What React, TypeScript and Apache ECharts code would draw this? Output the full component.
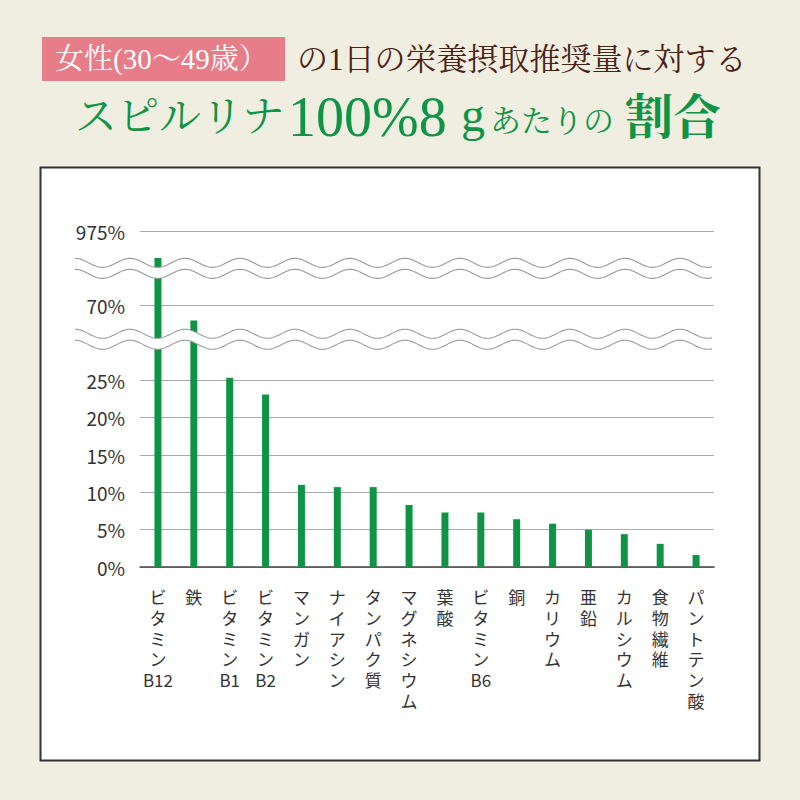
import React, { useEffect, useRef } from "react";
import * as echarts from "echarts";

// Categories (x axis)
const categories = [
  "ビタミンB12", "鉄", "ビタミンB1", "ビタミンB2", "マンガン", "ナイアシン",
  "タンパク質", "マグネシウム", "葉酸", "ビタミンB6", "銅", "カリウム",
  "亜鉛", "カルシウム", "食物繊維", "パントテン酸",
];

// Bar heights on the (broken) axis scale. Up to 25 the unit is %.
// Above the breaks: 35 = "70%", 45 = "975%".
const values = [41.4, 33.0, 25.35, 23.1, 11.0, 10.7, 10.7, 8.3, 7.3, 7.3, 6.4, 5.8, 5.0, 4.4, 3.1, 1.6];

// Tick positions on the axis scale and their labels
const tickValues = [0, 5, 10, 15, 20, 25, 35, 45];
const tickLabels = ["0%", "5%", "10%", "15%", "20%", "25%", "70%", "975%"];

// Axis-break positions (on the axis scale)
const breakPositions = [30.5, 40];

const BG = "#f0eee1";
const GREEN = "#0f9446";
const BROWN = "#4b2216";
const PINK = "#e67d88";
const SERIF = "'Liberation Serif', 'Noto Serif CJK JP', 'Noto Sans CJK JP', serif";
const SANS = "'Noto Sans CJK JP', 'Noto Sans', sans-serif";

function verticalLabel(s: string): string {
  const parts: string[] = [];
  let buf = "";
  for (const ch of s) {
    if (/[A-Za-z0-9]/.test(ch)) {
      buf += ch;
    } else {
      if (buf) { parts.push(buf); buf = ""; }
      parts.push(ch);
    }
  }
  if (buf) parts.push(buf);
  return parts.join("\n");
}

export default function App() {
  const ref = useRef<HTMLDivElement>(null);
  useEffect(() => {
    document.body.style.margin = "0";
    const chart = echarts.init(ref.current!, null, { renderer: "svg" });
    const splitColors: string[] = [];
    for (let v = 0; v <= 45; v += 5) {
      splitColors.push(tickValues.indexOf(v) >= 0 ? "#aaaaaa" : "rgba(0,0,0,0)");
    }
    chart.setOption({
      animation: false,
      backgroundColor: BG,
      grid: { left: 140, right: 86, top: 231, bottom: 233 },
      xAxis: {
        type: "category",
        data: categories,
        axisLine: { show: true, lineStyle: { color: "#444", width: 1.5 } },
        axisTick: { show: false },
        axisLabel: {
          interval: 0,
          margin: 19,
          color: "#333",
          fontFamily: SANS,
          fontSize: 17,
          lineHeight: 20.8,
          align: "center",
          verticalAlign: "top",
          formatter: (v: string) => verticalLabel(v),
        },
      },
      yAxis: {
        type: "value",
        min: 0,
        max: 45,
        interval: 5,
        axisLine: { show: false },
        axisTick: { show: false },
        axisLabel: {
          margin: 15,
          color: "#333",
          fontFamily: SANS,
          fontSize: 19,
          formatter: (v: number) => {
            const i = tickValues.indexOf(v);
            return i >= 0 ? tickLabels[i] : "";
          },
        },
        splitLine: { show: true, lineStyle: { color: splitColors, width: 1 } },
      },
      series: [
        {
          type: "bar",
          data: values,
          barWidth: 7,
          itemStyle: { color: GREEN },
          z: 2,
        },
      ],
    });

    const waveBand = (v: number) => {
      const yc = chart.convertToPixel({ yAxisIndex: 0 }, v) as number;
      const x0 = 75, x1 = 712, period = 55, amp = 4.5, sep = 5.5;
      const top: number[][] = [];
      const bot: number[][] = [];
      for (let x = x0; x <= x1; x += 1) {
        const d = amp * Math.cos((2 * Math.PI * (x - x0)) / period);
        top.push([x, yc - sep - d]);
        bot.push([x, yc + sep - d]);
      }
      return [
        {
          type: "polygon",
          z: 100,
          shape: { points: top.concat(bot.slice().reverse()) },
          style: { fill: "#ffffff", stroke: "none" },
          silent: true,
        },
        {
          type: "polyline",
          z: 101,
          shape: { points: top },
          style: { stroke: "#999", lineWidth: 1.1, fill: "none" },
          silent: true,
        },
        {
          type: "polyline",
          z: 101,
          shape: { points: bot },
          style: { stroke: "#999", lineWidth: 1.1, fill: "none" },
          silent: true,
        },
      ];
    };

    const graphics: any[] = [
      {
        type: "rect",
        z: -10,
        shape: { x: 40.5, y: 167.5, width: 719, height: 593 },
        style: { fill: "#ffffff", stroke: "#333", lineWidth: 2 },
        silent: true,
      },
      {
        type: "rect",
        z: 1,
        shape: { x: 42, y: 37, width: 243, height: 44 },
        style: { fill: PINK },
        silent: true,
      },
      {
        type: "text",
        z: 2,
        x: 55,
        y: 59,
        style: {
          text: "女性(30〜49歳）",
          fill: "#ffffff",
          font: `29px ${SERIF}`,
          textVerticalAlign: "middle",
          textAlign: "left",
        },
      },
      {
        type: "text",
        z: 2,
        x: 297,
        y: 59,
        style: {
          text: "の1日の栄養摂取推奨量に対する",
          fill: BROWN,
          font: `31px ${SERIF}`,
          textVerticalAlign: "middle",
          textAlign: "left",
        },
      },
      {
        type: "text", z: 2, x: 75, y: 117,
        style: { text: "スピルリナ", fill: GREEN, font: `42px ${SERIF}`, textVerticalAlign: "middle", textAlign: "left" },
      },
      {
        type: "text", z: 2, x: 288, y: 117,
        style: { text: "100%8", fill: GREEN, font: `56px ${SERIF}`, textVerticalAlign: "middle", textAlign: "left" },
      },
      {
        type: "text", z: 2, x: 461, y: 114,
        style: { text: "g", fill: GREEN, font: `48px ${SERIF}`, textVerticalAlign: "middle", textAlign: "left" },
      },
      {
        type: "text", z: 2, x: 490, y: 121,
        style: { text: "あたりの", fill: GREEN, font: `31px ${SERIF}`, textVerticalAlign: "middle", textAlign: "left" },
      },
      {
        type: "text", z: 2, x: 625, y: 117,
        style: { text: "割合", fill: GREEN, font: `bold 48px ${SERIF}`, textVerticalAlign: "middle", textAlign: "left" },
      },
    ];
    for (const b of breakPositions) graphics.push(...waveBand(b));
    chart.setOption({ graphic: graphics });
    return () => chart.dispose();
  }, []);
  return (
    <div
      ref={ref}
      style={{ position: "fixed", left: 0, top: 0, width: 800, height: 800 }}
    />
  );
}
